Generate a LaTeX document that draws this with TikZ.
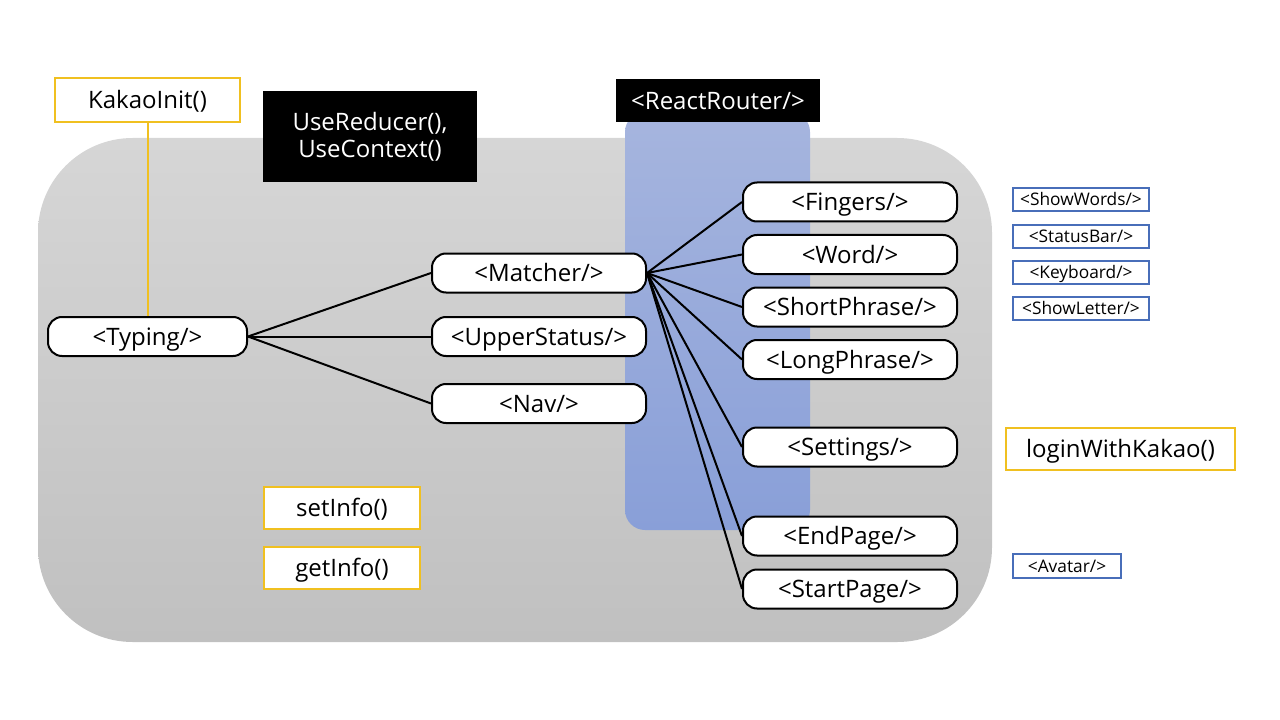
\documentclass[tikz,border=0pt]{standalone}
\usepackage{fontspec}
\setmainfont{Open Sans}
\usepackage{xcolor}
\usepackage{tikz}
\usetikzlibrary{shapes, arrows.meta, positioning}

\definecolor{grayTop}{RGB}{214,214,214}
\definecolor{grayBot}{RGB}{192,192,192}
\definecolor{blueTop}{RGB}{166,181,222}
\definecolor{blueBot}{RGB}{137,159,216}
\definecolor{hookYellow}{RGB}{240,192,32}
\definecolor{subBlue}{RGB}{72,110,185}

\begin{document}
\begin{tikzpicture}
  [
    x=0.75pt, y=-0.75pt,
    Comp/.style={rectangle, rounded corners=10.5pt, draw=black, fill=white, line width=1.5pt, minimum width=160.5pt, minimum height=29.25pt, inner sep=0pt, text height=12.9pt, text depth=0pt, font=\fontsize{18}{22}\selectfont},
    Hook/.style={rectangle, draw=hookYellow, fill=white, line width=1.5pt, minimum height=31.5pt, inner sep=0pt, text height=12.9pt, text depth=0pt, font=\fontsize{18}{22}\selectfont},
    Sub/.style={rectangle, draw=subBlue, fill=white, line width=1.5pt, minimum width=102pt, minimum height=17.25pt, inner sep=0pt, text height=9.3pt, text depth=0pt, font=\fontsize{13}{15}\selectfont},
    Dark/.style={rectangle, fill=black, text=white, inner sep=0pt, align=center, font=\fontsize{18}{20.5}\selectfont}
  ]
  \useasboundingbox (0,0) rectangle (1280,720);

  % Areas
  \shade[top color=grayTop, bottom color=grayBot, rounded corners=71pt] (38,138) rectangle (992,642);
  \shade[top color=blueTop, bottom color=blueBot, rounded corners=15pt] (625,112) rectangle (810,530);

  % Nodes
  \node[Hook, minimum width=138.75pt, minimum height=33pt] (kakao) at (147.5,100) {KakaoInit()};

  \node[Dark, minimum width=160.5pt, minimum height=68.25pt] (reducer) at (370,136.5) {UseReducer(),\\UseContext()};

  \node[Dark, minimum width=153pt, minimum height=32.25pt, text height=12.9pt, text depth=0pt] (router) at (718,100.5) {<ReactRouter/>};

  \node[Comp, minimum width=149.25pt] (typing) at (147.5,336.5) {<Typing/>};

  \node[Comp] (matcher) at (539,273) {<Matcher/>};
  \node[Comp] (upper) at (539,336.5) {<UpperStatus/>};
  \node[Comp] (nav) at (539,403.5) {<Nav/>};

  \node[Comp] (fingers) at (850,202) {<Fingers/>};
  \node[Comp] (word) at (850,254.5) {<Word/>};
  \node[Comp] (short) at (850,307) {<ShortPhrase/>};
  \node[Comp] (long) at (850,359.5) {<LongPhrase/>};
  \node[Comp] (settings) at (850,447) {<Settings/>};
  \node[Comp] (endpage) at (850,536) {<EndPage/>};
  \node[Comp] (startpage) at (850,589) {<StartPage/>};

  \node[Sub] (showwords) at (1081,199.5) {<ShowWords/>};
  \node[Sub] (statusbar) at (1081,236.5) {<StatusBar/>};
  \node[Sub] (keyboard) at (1081,272.5) {<Keyboard/>};
  \node[Sub] (showletter) at (1081,308.5) {<ShowLetter/>};
  \node[Sub, minimum width=81pt, minimum height=18pt] (avatar) at (1067,566) {<Avatar/>};

  \node[Hook, minimum width=171.75pt] (login) at (1120.5,449) {loginWithKakao()};
  \node[Hook, minimum width=117pt] (setinfo) at (342,508) {setInfo()};
  \node[Hook, minimum width=117pt] (getinfo) at (342,568) {getInfo()};

  % Lines
  \path [draw, draw=hookYellow, line width=1.5pt] (kakao) -- (typing);
  \path [draw, line width=1.5pt] (typing.east) -- (matcher.west);
  \path [draw, line width=1.5pt] (typing.east) -- (upper.west);
  \path [draw, line width=1.5pt] (typing.east) -- (nav.west);
  \foreach \dest in {fingers, word, short, long, settings, endpage, startpage}
    \path [draw, line width=1.5pt] (matcher.east) -- (\dest.west);

\end{tikzpicture}
\end{document}
